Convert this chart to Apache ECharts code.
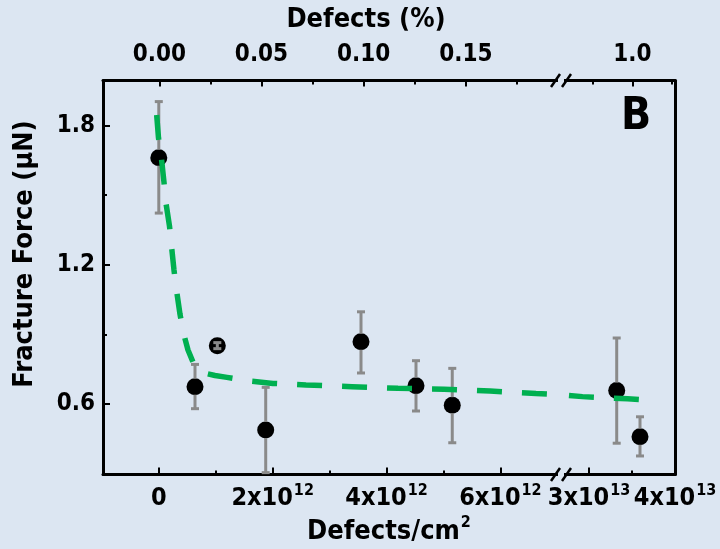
<!DOCTYPE html>
<html><head><meta charset="utf-8">
<script src="https://cdn.jsdelivr.net/npm/echarts@6/dist/echarts.min.js"></script>
<style>html,body{margin:0;padding:0;background:#dce6f2;}#c{width:720px;height:549px;}</style>
</head><body><div id="c"></div>
<script>
// ---------------- data ----------------
const leftDensity = [0, 0.636e12, 1.028e12, 1.878e12, 3.552e12, 4.518e12, 5.155e12];
const leftForce   = [1.662, 0.674, 0.851, 0.487, 0.868, 0.678, 0.594];
const leftLower   = [1.423, 0.579, 0.838, 0.303, 0.733, 0.569, 0.432];
const leftUpper   = [1.904, 0.770, 0.864, 0.671, 0.997, 0.786, 0.753];
const rightDensity = [3.322e13, 3.593e13];
const rightForce   = [0.657, 0.458];
const rightLower   = [0.430, 0.375];
const rightUpper   = [0.884, 0.544];
const fitLeftX = [-0.037e12, -0.005e12, 0.047e12, 0.091e12, 0.126e12, 0.188e12, 0.223e12, 0.267e12, 0.311e12, 0.372e12, 0.434e12, 0.513e12, 0.601e12, 0.776e12, 0.987e12, 1.198e12, 1.602e12, 2.006e12, 2.586e12, 3.394e12, 4.202e12, 5.010e12, 5.818e12, 6.626e12, 7.065e12];
const fitLeftY = [1.846, 1.747, 1.658, 1.557, 1.466, 1.367, 1.281, 1.177, 1.091, 0.987, 0.905, 0.832, 0.780, 0.734, 0.722, 0.714, 0.698, 0.688, 0.681, 0.674, 0.667, 0.663, 0.655, 0.645, 0.640];
const fitRightX = [2.674e13, 2.924e13, 3.186e13, 3.448e13, 3.581e13];
const fitRightY = [0.639, 0.631, 0.626, 0.622, 0.619];
const bottomLeftTicks = [0, 2e12, 4e12, 6e12];
const bottomLeftMinor = [1e12, 3e12, 5e12];
const bottomRightTicks = [3e13, 4e13];
const bottomRightMinor = [3.5e13];
const topLeftTicks = [0, 0.05, 0.10, 0.15];
const topLeftMinor = [0.025, 0.075, 0.125, 0.175];
const topRightTicks = [1.0];
const topRightMinor = [0.9, 1.1];
const yTicks = [0.6, 1.2, 1.8];
const yMinor = [0.9, 1.5];

// ---------------- style ----------------
const FONT = '"DejaVu Sans Condensed", "DejaVu Sans", sans-serif';
const BG = '#dce6f2';
const GREEN = '#00b050';
const ERR = '#8a8a8a';
const TICK_FS = 24;

const chart = echarts.init(document.getElementById('c'), null, {renderer: 'canvas'});

function pairs(xs, ys) { return xs.map((x, i) => [x, ys[i]]); }
function errData(xs, ys, lo, hi) { return xs.map((x, i) => [x, ys[i], lo[i], hi[i]]); }

function sciFmt(v) {
  if (v === 0) return '{b|0}';
  const e = Math.floor(Math.log10(v) + 1e-9);
  const m = Math.round(v / Math.pow(10, e));
  return '{b|' + m + 'x10}{s|' + e + '}';
}
const sciRich = {
  b: {fontFamily: FONT, fontWeight: 'bold', fontSize: 25, color: '#000', lineHeight: 28, verticalAlign: 'bottom'},
  s: {fontFamily: FONT, fontWeight: 'bold', fontSize: 16, color: '#000', lineHeight: 28, verticalAlign: 'top', padding: [0, 0, 12, 1]}
};

const lineSty = {color: '#000', width: 3};
function xAxis(grid, pos, min, max, ticks, len, labels, fmt, rich) {
  return {
    type: 'value', gridIndex: grid, position: pos, min: min, max: max,
    axisLine: {show: labels !== null, onZero: false, lineStyle: lineSty},
    axisTick: {show: true, inside: true, length: len, lineStyle: {color: '#000', width: 2}, customValues: ticks},
    axisLabel: labels ? {show: true, customValues: ticks, formatter: fmt, rich: rich, color: '#000',
      fontFamily: FONT, fontWeight: 'bold', fontSize: TICK_FS, margin: pos === 'top' ? 14 : 8} : {show: false},
    splitLine: {show: false}, minorTick: {show: false}
  };
}
const LMIN = -0.98e12, LMAX = 7.065e12, RMIN = 2.674e13, RMAX = 4.0e13;
const TLMIN = -0.02754, TLMAX = 0.19653, TRMIN = 0.8209, TRMAX = 1.1073;
const YMIN = 0.295, YMAX = 1.995;

function errRender(params, api) {
  const x = api.value(0), y = api.value(1), lo = api.value(2), hi = api.value(3);
  const pc = api.coord([x, y]), pl = api.coord([x, lo]), ph = api.coord([x, hi]);
  const cs = params.coordSys;
  const top = cs.y, bot = cs.y + cs.height;
  const cl = v => Math.max(top, Math.min(bot, v));
  const r = 8, cw = 4;
  const st = {stroke: ERR, lineWidth: 3};
  const ch = [];
  const yh = cl(ph[1]), yl = cl(pl[1]);
  if (pc[1] - yh <= r && yl - pc[1] <= r) {
    ch.push({type: 'line', shape: {x1: pc[0], y1: yh, x2: pc[0], y2: yl}, style: st});
  } else {
    if (pc[1] - yh > r) ch.push({type: 'line', shape: {x1: pc[0], y1: yh, x2: pc[0], y2: pc[1] - r}, style: st});
    if (yl - pc[1] > r) ch.push({type: 'line', shape: {x1: pc[0], y1: pc[1] + r, x2: pc[0], y2: yl}, style: st});
  }
  if (ph[1] >= top && ph[1] <= bot) ch.push({type: 'line', shape: {x1: pc[0] - cw, y1: ph[1], x2: pc[0] + cw, y2: ph[1]}, style: st});
  if (pl[1] >= top && pl[1] <= bot) ch.push({type: 'line', shape: {x1: pc[0] - cw, y1: pl[1], x2: pc[0] + cw, y2: pl[1]}, style: st});
  return {type: 'group', children: ch};
}

const option = {
  backgroundColor: BG,
  animation: false,
  grid: [
    {left: 103, top: 80.5, width: 458, height: 394},
    {left: 561, top: 80.5, width: 114, height: 394}
  ],
  xAxis: [
    xAxis(0, 'bottom', LMIN, LMAX, bottomLeftTicks, 7, true, sciFmt, sciRich),
    xAxis(0, 'bottom', LMIN, LMAX, bottomLeftMinor, 4, null),
    xAxis(0, 'top', TLMIN, TLMAX, topLeftTicks, 6, true, v => v.toFixed(2)),
    xAxis(0, 'top', TLMIN, TLMAX, topLeftMinor, 4, null),
    xAxis(1, 'bottom', RMIN, RMAX, bottomRightTicks, 7, true, sciFmt, sciRich),
    xAxis(1, 'bottom', RMIN, RMAX, bottomRightMinor, 4, null),
    xAxis(1, 'top', TRMIN, TRMAX, topRightTicks, 6, true, v => v.toFixed(1)),
    xAxis(1, 'top', TRMIN, TRMAX, topRightMinor, 4, null)
  ],
  yAxis: [
    {type: 'value', gridIndex: 0, position: 'left', min: YMIN, max: YMAX,
      axisLine: {show: true, onZero: false, lineStyle: lineSty},
      axisTick: {show: true, inside: true, length: 7, lineStyle: {color: '#000', width: 2}, customValues: yTicks},
      axisLabel: {customValues: yTicks, formatter: v => v.toFixed(1), color: '#000', fontFamily: FONT, fontWeight: 'bold', fontSize: TICK_FS, margin: 8},
      splitLine: {show: false}},
    {type: 'value', gridIndex: 0, position: 'left', min: YMIN, max: YMAX,
      axisLine: {show: false, onZero: false},
      axisTick: {show: true, inside: true, length: 4, lineStyle: {color: '#000', width: 2}, customValues: yMinor},
      axisLabel: {show: false}, splitLine: {show: false}},
    {type: 'value', gridIndex: 1, position: 'right', min: YMIN, max: YMAX,
      axisLine: {show: true, onZero: false, lineStyle: lineSty},
      axisTick: {show: false}, axisLabel: {show: false}, splitLine: {show: false}}
  ],
  series: [
    {type: 'custom', xAxisIndex: 0, yAxisIndex: 0, renderItem: errRender, data: errData(leftDensity, leftForce, leftLower, leftUpper), z: 3, silent: true, encode: {x: 0, y: [1, 2, 3]}},
    {type: 'custom', xAxisIndex: 4, yAxisIndex: 2, renderItem: errRender, data: errData(rightDensity, rightForce, rightLower, rightUpper), z: 3, silent: true, encode: {x: 0, y: [1, 2, 3]}},
    {type: 'scatter', xAxisIndex: 0, yAxisIndex: 0, data: pairs(leftDensity, leftForce), symbol: 'circle', symbolSize: 17, itemStyle: {color: '#000', opacity: 1}, z: 2, silent: true},
    {type: 'scatter', xAxisIndex: 4, yAxisIndex: 2, data: pairs(rightDensity, rightForce), symbol: 'circle', symbolSize: 17, itemStyle: {color: '#000', opacity: 1}, z: 2, silent: true},
    {type: 'line', xAxisIndex: 0, yAxisIndex: 0, data: pairs(fitLeftX, fitLeftY), showSymbol: false, symbol: 'none', z: 4, silent: true,
      lineStyle: {color: GREEN, width: 5.5, type: [25, 20], cap: 'butt'}},
    {type: 'line', xAxisIndex: 4, yAxisIndex: 2, data: pairs(fitRightX, fitRightY), showSymbol: false, symbol: 'none', z: 4, silent: true,
      lineStyle: {color: GREEN, width: 5.5, type: [25, 20], dashOffset: 37, cap: 'butt'}}
  ]
};
chart.setOption(option);

// titles, panel letter and axis break marks
const bx = chart.convertToPixel({xAxisIndex: 0}, LMAX);
const yTop = chart.convertToPixel({yAxisIndex: 0}, YMAX);
const yBot = chart.convertToPixel({yAxisIndex: 0}, YMIN);
const xL = chart.convertToPixel({xAxisIndex: 0}, LMIN);
const xR = chart.convertToPixel({xAxisIndex: 4}, RMAX);
function brk(y) {
  return [
    {type: 'rect', shape: {x: bx - 3, y: y - 3, width: 6, height: 6}, style: {fill: BG}, z: 100},
    {type: 'line', shape: {x1: bx - 10, y1: y + 6.5, x2: bx - 1, y2: y - 6.5}, style: {stroke: '#000', lineWidth: 2.5}, z: 101},
    {type: 'line', shape: {x1: bx + 1, y1: y + 6.5, x2: bx + 10, y2: y - 6.5}, style: {stroke: '#000', lineWidth: 2.5}, z: 101}
  ];
}
chart.setOption({
  graphic: [
    ...brk(yTop), ...brk(yBot),
    {type: 'text', x: 366, y: 20, z: 100,
      style: {text: 'Defects (%)', fill: '#000', font: 'bold 27px ' + FONT, align: 'center', verticalAlign: 'middle'}},
    {type: 'text', x: (xL + xR) / 2, y: 530, z: 100,
      style: {text: '{a|Defects/cm}{s|2}', align: 'center', verticalAlign: 'middle',
        rich: {a: {fill: '#000', fontFamily: FONT, fontWeight: 'bold', fontSize: 27, lineHeight: 30, verticalAlign: 'bottom'},
               s: {fill: '#000', fontFamily: FONT, fontWeight: 'bold', fontSize: 16, lineHeight: 30, verticalAlign: 'top', padding: [0, 0, 14, 1]}}}},
    {type: 'text', x: 25, y: 254, rotation: Math.PI / 2, z: 100,
      style: {text: 'Fracture Force (\u03bcN)', fill: '#000', font: 'bold 27px ' + FONT, align: 'center', verticalAlign: 'middle'}},
    {type: 'text', x: 636, y: 118, z: 100,
      style: {text: 'B', fill: '#000', font: 'bold 44px ' + FONT, align: 'center', verticalAlign: 'middle'}}
  ]
});
</script>
</body></html>
